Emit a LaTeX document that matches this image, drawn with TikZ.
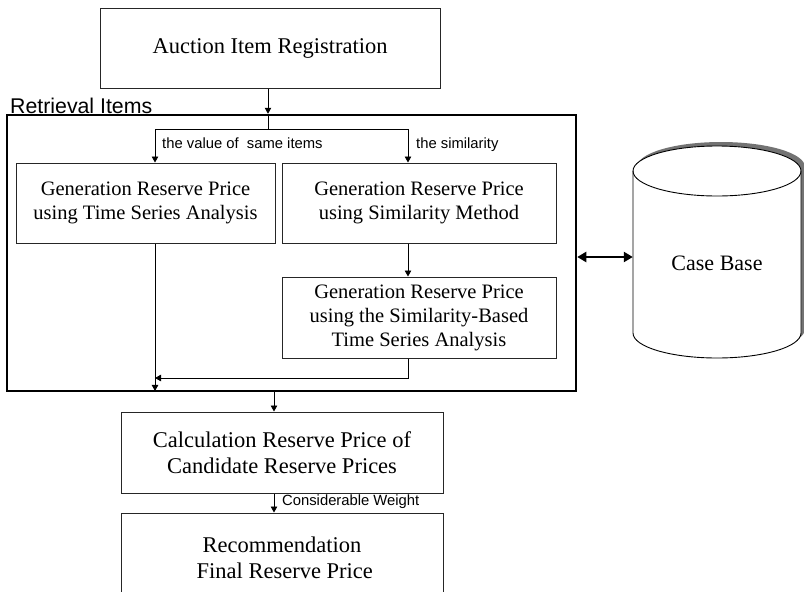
\documentclass[tikz,border=0pt]{standalone}
\usepackage{fontspec}
\setmainfont{Liberation Serif}
\setsansfont{Liberation Sans}
\usetikzlibrary{arrows.meta}
\begin{document}
\begin{tikzpicture}[x=1pt,y=-1pt,
  box/.style={draw=black!85, line width=1pt, inner sep=0pt, align=center},
  bigtext/.style={font={\fontsize{22.5}{26}\selectfont}},
  gentext/.style={font={\fontsize{20.5}{24}\selectfont}},
  lbl/.style={font={\sffamily\fontsize{14.8}{16}\selectfont}, inner sep=0pt, anchor=base west},
  arr/.style={-{Triangle[length=6pt,width=6.5pt]}, line width=0.9pt},
  dbl/.style={{Triangle[length=9pt,width=10pt]}-{Triangle[length=9pt,width=10pt]}, line width=2.4pt},
]
\useasboundingbox (0,0) rectangle (804,592);
\clip (0,0) rectangle (804,592);
\fill[white] (0,0) rectangle (804,592);

% group frame and its title
\node[draw, line width=2.5pt, minimum width=569, minimum height=276, inner sep=0pt] (ret) at (291.5,253) {};
\node[font={\sffamily\fontsize{21.3}{23}\selectfont}, inner sep=0pt, anchor=base west] (rettitle) at (10,113) {Retrieval Items};

% process boxes
\node[box, bigtext, minimum width=340, minimum height=80] (top) at (270,48) {Auction Item Registration};
\node[box, gentext, minimum width=259, minimum height=80] (lbox) at (145.5,203) {Generation Reserve Price\\using Time Series Analysis};
\node[box, gentext, minimum width=274, minimum height=80] (rbox1) at (419,203) {Generation Reserve Price\\using Similarity Method};
\node[box, gentext, minimum width=274, minimum height=81] (rbox2) at (419,317.5) {Generation Reserve Price\\using the Similarity-Based\\Time Series Analysis};
\node[box, bigtext, minimum width=322, minimum height=81] (calc) at (282,452.5) {Calculation Reserve Price of\\Candidate Reserve Prices};
\node[box, bigtext, minimum width=322, minimum height=90] (final) at (282,558) {Recommendation\\\ Final Reserve Price};

% case base cylinder with its shadow (y axis points down here)
\fill[black!55] (637,167) -- (637,329) arc[start angle=180, end angle=0, x radius=84, y radius=25]
  -- (805,167) arc[start angle=0, end angle=-180, x radius=84, y radius=25] -- cycle;
\draw[fill=white, line width=0.9pt] (633,171) -- (633,333) arc[start angle=180, end angle=0, x radius=84, y radius=25]
  -- (801,171) arc[start angle=0, end angle=-180, x radius=84, y radius=25] -- cycle;
\draw[line width=0.9pt] (633,171) arc[start angle=180, end angle=0, x radius=84, y radius=25];
\node[inner sep=0pt, minimum width=168, minimum height=160] (db) at (717,257) {};
\node[font={\fontsize{22}{24}\selectfont}] (dbtext) at (717,263) {Case Base};

% junction points
\coordinate (j0) at (268,129);
\coordinate (jl) at (155,129);
\coordinate (jr) at (408,129);
\coordinate (jm) at (155,378);
\coordinate (jc) at (274,400);

% connectors
\draw[arr] (top.south -| j0) -- (ret.north -| j0);
\draw[line width=0.9pt] (ret.north -| j0) -- (j0);
\draw[arr] (j0) -- (jl) -- (lbox.north -| jl);
\draw[arr] (j0) -- (jr) -- (rbox1.north -| jr);
\node[lbl] (lblsame) at (162,148) {the value of\ \ same items};
\node[lbl] (lblsim) at (416,148) {the similarity};
\draw[arr] (rbox1.south -| jr) -- (rbox2.north -| jr);
\draw[arr] (rbox2.south -| jr) |- (jm);
\draw[arr, shorten >=1.3pt] (lbox.south -| jl) -- (ret.south -| jl);
\draw[arr] (ret.south -| jc) -- (calc.north -| jc);
\draw[arr] (calc.south -| jc) -- (final.north -| jc);
\node[lbl] (lblweight) at (282,505) {Considerable Weight};
\draw[dbl] (ret.east |- db.west) -- (db.west);
\end{tikzpicture}
\end{document}
